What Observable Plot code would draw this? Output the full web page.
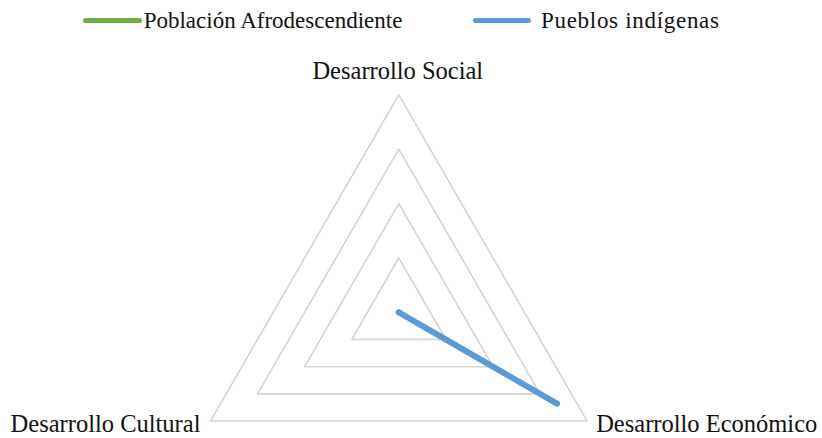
<!DOCTYPE html>
<html>
<head>
<meta charset="utf-8">
<script src="https://cdn.jsdelivr.net/npm/d3@7"></script>
<script src="https://cdn.jsdelivr.net/npm/@observablehq/plot@0.6"></script>
<style>
  html, body, body *, svg, svg text { font-family: "Liberation Serif", serif !important; }
</style>
</head>
<body style='margin:0;background:#fff;color:#111'>
<div id="legend" style="position:relative;height:40px;width:822px"></div>
<div id="chart"></div>
<script>
// Data
const categories = ["Desarrollo Social", "Desarrollo Económico", "Desarrollo Cultural"];
const seriesNames = ["Población Afrodescendiente", "Pueblos indígenas"];
const afroValues = [0, 0, 0];
const indigenasValues = [0, 0.84, 0];
const gridLevels = [0.25, 0.5, 0.75, 1];

const colors = {"Población Afrodescendiente": "#70ad47", "Pueblos indígenas": "#5b9bd5"};
const FONT = "Liberation Serif";

// Legend (HTML, above the SVG)
const legend = document.getElementById("legend");
const legendLayout = [{left: 82.7, sw: 59, gap: 2, ls: 0}, {left: 473, sw: 58, gap: 10, ls: 0.7}];
seriesNames.forEach((name, i) => {
  const it = document.createElement("div");
  Object.assign(it.style, {position: "absolute", top: "9px", left: legendLayout[i].left + "px", display: "flex",
    alignItems: "center", fontSize: "23px", lineHeight: "23px", whiteSpace: "nowrap"});
  const sw = document.createElement("span");
  Object.assign(sw.style, {display: "inline-block", height: "5px", borderRadius: "3px",
    width: legendLayout[i].sw + "px", background: colors[name], marginRight: legendLayout[i].gap + "px"});
  const tx = document.createElement("span");
  tx.style.letterSpacing = legendLayout[i].ls + "px";
  tx.textContent = name;
  it.appendChild(sw); it.appendChild(tx);
  legend.appendChild(it);
});

// Radar geometry
const angle = i => Math.PI / 2 - i * 2 * Math.PI / categories.length;
const pt = (i, r) => ({x: r * Math.cos(angle(i)), y: r * Math.sin(angle(i))});

const grid = [];
gridLevels.forEach(level => {
  [...categories.keys(), 0].forEach(i => grid.push({level, ...pt(i, level)}));
});

const series = [];
[[seriesNames[0], afroValues], [seriesNames[1], indigenasValues]].forEach(([name, vals]) => {
  [...categories.keys(), 0].forEach(i => series.push({name, ...pt(i, vals[i])}));
});

const labels = categories.map((c, i) => ({cat: c, ...pt(i, 1)}));

const cx = 398.3, cy = 271.8, R = 217.5;

const plot = Plot.plot({
  width: 822,
  height: 398,
  margin: 0,
  style: {fontFamily: FONT, fontSize: "24px", background: "#fff", display: "block"},
  x: {domain: [-1, 1], range: [cx - R, cx + R], axis: null},
  y: {domain: [-1, 1], range: [cy + R, cy - R], axis: null},
  color: {domain: seriesNames, range: seriesNames.map(n => colors[n])},
  marks: [
    Plot.line(grid, {x: "x", y: "y", z: "level", stroke: "#d4d4d4", strokeWidth: 1.6, curve: "linear-closed"}),
    Plot.line(series, {x: "x", y: "y", z: "name", stroke: "name", strokeWidth: 6, strokeLinecap: "round", strokeLinejoin: "round"}),
    Plot.text(labels.filter(d => d.cat === categories[0]), {x: "x", y: "y", text: "cat", textAnchor: "middle", lineAnchor: "bottom", dx: -1, dy: -16, fontSize: 24.5, fontFamily: FONT, fill: "#111"}),
    Plot.text(labels.filter(d => d.cat === categories[1]), {x: "x", y: "y", text: "cat", textAnchor: "start", lineAnchor: "bottom", dx: 9, dy: 11, fontSize: 24.5, fontFamily: FONT, fill: "#111"}),
    Plot.text(labels.filter(d => d.cat === categories[2]), {x: "x", y: "y", text: "cat", textAnchor: "end", lineAnchor: "bottom", dx: -10, dy: 11, fontSize: 24.5, fontFamily: FONT, fill: "#111"})
  ]
});
document.getElementById("chart").appendChild(plot);
</script>
</body>
</html>
